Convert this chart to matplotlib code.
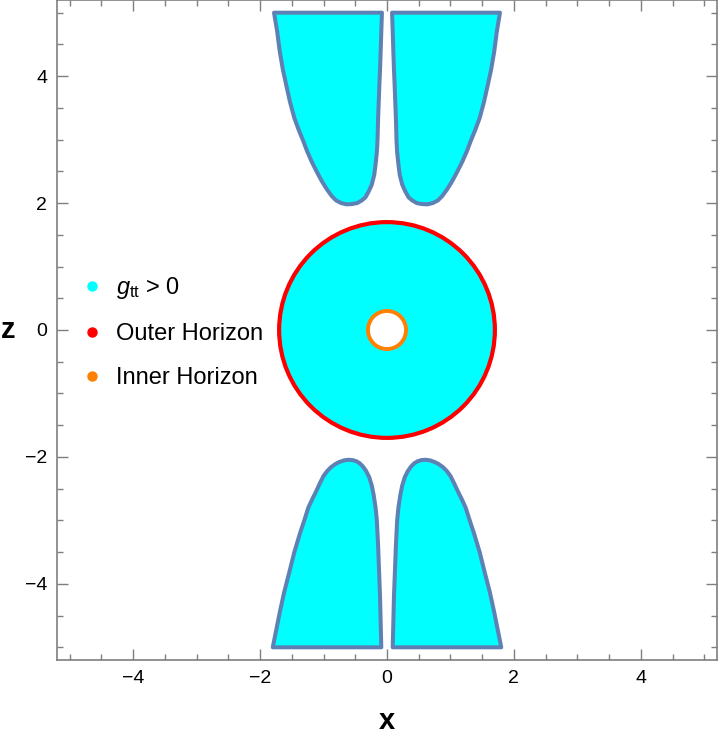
import matplotlib
matplotlib.use("Agg")
import matplotlib.pyplot as plt
from matplotlib.patches import Circle, Wedge
from matplotlib.lines import Line2D
from matplotlib.ticker import MultipleLocator
import numpy as np

plt.rcParams['font.family'] = ['Liberation Sans', 'DejaVu Sans']
plt.rcParams['mathtext.fontset'] = 'custom'
plt.rcParams['mathtext.rm'] = 'Liberation Sans'
plt.rcParams['mathtext.it'] = 'Liberation Sans:italic'

# horizon radii
r_outer = 1.7
r_inner = 0.3

# outline of the upper right g_tt > 0 lobe (x, z);
# the upper left lobe is its mirror image
top_x = [0.08, 1.78, 1.73, 1.69, 1.64, 1.59, 1.53, 1.46, 1.39, 1.32, 1.26,
         1.19, 1.11, 1.03, 0.95, 0.87, 0.80, 0.72, 0.635, 0.55, 0.47, 0.40,
         0.34, 0.29, 0.24, 0.20, 0.18, 0.16, 0.15, 0.14, 0.13, 0.12, 0.11,
         0.10, 0.09, 0.08]
top_z = [5.0, 5.0, 4.7, 4.39, 4.1, 3.87, 3.6, 3.34, 3.15, 2.98, 2.82,
         2.66, 2.5, 2.35, 2.22, 2.11, 2.04, 2.0, 1.98, 1.985, 2.0, 2.04,
         2.09, 2.18, 2.29, 2.45, 2.61, 2.8, 2.98, 3.34, 3.6, 3.87, 4.1,
         4.39, 4.7, 5.0]

# outline of the lower right lobe
bot_x = [0.09, 1.80, 1.75, 1.69, 1.62, 1.54, 1.46, 1.37, 1.30, 1.24, 1.18,
         1.12, 1.06, 1.0, 0.94, 0.88, 0.81, 0.75, 0.68, 0.61, 0.54, 0.48,
         0.43, 0.38, 0.33, 0.28, 0.24, 0.21, 0.18, 0.16, 0.15, 0.14, 0.125,
         0.11, 0.10, 0.09]
bot_z = [-5.0, -5.0, -4.75, -4.45, -4.13, -3.82, -3.5, -3.2, -2.99, -2.8, -2.67,
         -2.55, -2.42, -2.3, -2.22, -2.16, -2.11, -2.08, -2.055, -2.045, -2.05, -2.07,
         -2.1, -2.15, -2.22, -2.32, -2.45, -2.6, -2.8, -3.0, -3.2, -3.4, -3.8,
         -4.19, -4.6, -5.0]

ticks = [-4, -2, 0, 2, 4]

cyan = '#00FFFF'
edge = '#5E81B5'
red = '#FF0000'
orange = '#FF8000'
frame = '#7F7F7F'

fig = plt.figure(figsize=(7.2, 7.4), dpi=100)
ax = fig.add_axes([57/720, 80/740, 660/720, 660/740])

# g_tt > 0 between the horizons
ax.add_patch(Wedge((0, 0), r_outer, 0, 360, width=r_outer - r_inner,
                   facecolor=cyan, edgecolor='none'))

for sx in (1, -1):
    ax.fill(sx * np.array(top_x), top_z, facecolor=cyan, edgecolor=edge,
            lw=2.9, joinstyle='round')
    ax.fill(sx * np.array(bot_x), bot_z, facecolor=cyan, edgecolor=edge,
            lw=2.9, joinstyle='round')

ax.add_patch(Circle((0, 0), r_outer, fill=False, edgecolor=red, lw=3.0))
ax.add_patch(Circle((0, 0), r_inner, fill=False, edgecolor=orange, lw=2.8))

ax.set_xlim(-5.2, 5.2)
ax.set_ylim(-5.2, 5.2)
ax.set_xticks(ticks)
ax.set_yticks(ticks)
ax.xaxis.set_minor_locator(MultipleLocator(0.5))
ax.yaxis.set_minor_locator(MultipleLocator(0.5))
ax.tick_params(which='both', direction='in', top=True, right=True,
               color=frame, width=1.0, labelsize=14, pad=7)
ax.tick_params(which='major', length=8)
ax.tick_params(which='minor', length=4.5)
for s in ax.spines.values():
    s.set_color(frame)
    s.set_linewidth(1.2)

ax.set_xlabel('x', fontsize=21, fontweight='bold')
ax.set_ylabel('z', fontsize=21, fontweight='bold', rotation=0)
ax.xaxis.set_label_coords(0.5, -0.092)
ax.yaxis.set_label_coords(-0.074, 0.5)
ax.xaxis.label.set_va('center')
ax.yaxis.label.set_va('center')
ax.yaxis.label.set_ha('center')

handles = [Line2D([], [], marker='o', ls='', color=c, markersize=6.5)
           for c in (cyan, red, orange)]
labels = [r'$g_{\mathrm{tt}}$ > 0', 'Outer Horizon', 'Inner Horizon']
ax.legend(handles, labels, loc='center left', bbox_to_anchor=(0.039, 0.497),
          frameon=False, fontsize=17, handlelength=0.8, handletextpad=0.6,
          labelspacing=0.93, borderpad=0, borderaxespad=0)

fig.savefig('out.png', dpi=100)
